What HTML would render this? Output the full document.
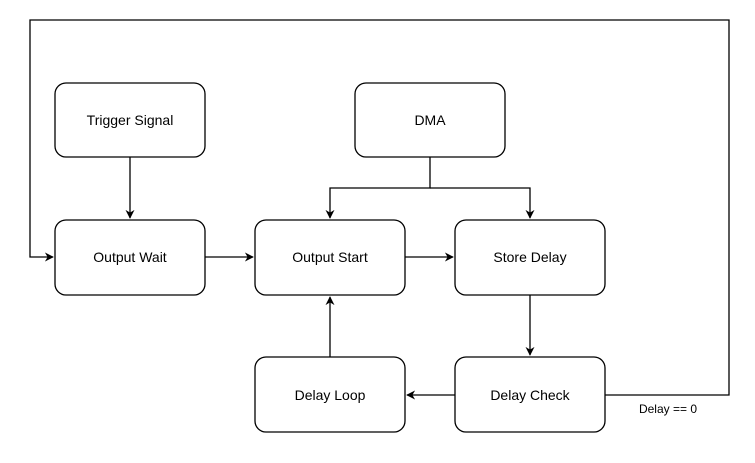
<!DOCTYPE html>
<html><head><style>body{margin:0;background:#fff}</style></head><body>
<svg width="755" height="458" xmlns="http://www.w3.org/2000/svg" font-family="Liberation Sans, Arial, sans-serif">
<defs><marker id="a" viewBox="0 0 10 10" refX="9" refY="5" markerWidth="9" markerHeight="9" markerUnits="userSpaceOnUse" orient="auto"><path d="M0,0 L10,5 L0,10 L3,5 Z" fill="#000"/></marker></defs>
<g fill="#fff" stroke="#000" stroke-width="1.3">
<rect x="55" y="83" width="150" height="74" rx="11"/>
<rect x="355" y="83" width="150" height="74" rx="11"/>
<rect x="55" y="220" width="150" height="75" rx="11"/>
<rect x="255" y="220" width="150" height="75" rx="11"/>
<rect x="455" y="220" width="150" height="75" rx="11"/>
<rect x="255" y="357" width="150" height="75" rx="11"/>
<rect x="455" y="357" width="150" height="75" rx="11"/>
</g>
<g fill="none" stroke="#000" stroke-width="1.3" marker-end="url(#a)">
<path d="M130,157 V218"/>
<path d="M430,157 V188 H330 V218"/>
<path d="M430,188 H530 V218"/>
<path d="M205,257 H253"/>
<path d="M405,257 H453"/>
<path d="M530,295 V355"/>
<path d="M455,395 H407"/>
<path d="M330,357 V297"/>
<path d="M605,395 H729 V20 H30 V257 H53"/>
</g>
<g font-size="14" text-anchor="middle" fill="#000">
<text x="130" y="125">Trigger Signal</text>
<text x="430" y="125">DMA</text>
<text x="130" y="262">Output Wait</text>
<text x="330" y="262">Output Start</text>
<text x="530" y="262">Store Delay</text>
<text x="330" y="400">Delay Loop</text>
<text x="530" y="400">Delay Check</text>
<text x="668" y="413" font-size="12">Delay == 0</text>
</g>
</svg>
</body></html>
